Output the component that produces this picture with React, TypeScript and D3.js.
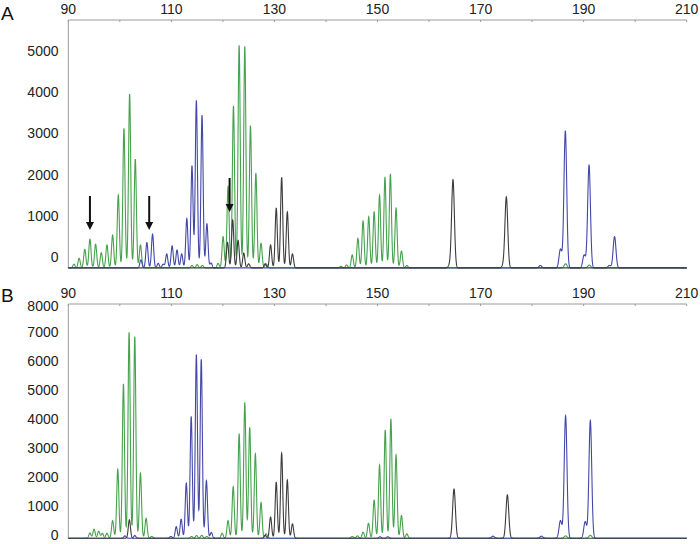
import React from "react";
import * as d3 from "d3";

// peaks: [size in bp, height above baseline in RFU]
const greenA: [number, number][] = [
  [91.1, 90], [92.1, 235], [93.2, 450], [94.2, 700], [95.3, 575], [96.4, 370],
  [97.5, 560], [98.6, 800], [99.7, 1770], [100.8, 3390], [101.9, 4220],
  [103.0, 2640], [104.0, 560], [114.0, 60], [115.0, 80], [116.0, 60],
  [119.07, 110], [120.04, 760], [121.0, 1970], [122.05, 3930], [123.15, 5400],
  [124.25, 5370], [125.35, 3450], [126.4, 2300], [127.4, 600], [128.4, 100],
  [142.9, 40], [144.0, 73], [145.1, 315], [146.2, 720], [147.2, 1140],
  [148.3, 1245], [149.35, 1365], [150.4, 1770], [151.45, 2200], [152.5, 2280],
  [153.6, 1450], [154.65, 410], [155.7, 60], [186.5, 100], [191.1, 70],
];
const blueA: [number, number][] = [
  [104.1, 195], [105.25, 615], [106.35, 820], [107.45, 110], [108.4, 90],
  [109.1, 340], [110.15, 535], [111.1, 437], [112.0, 340], [113.0, 1200],
  [114.0, 2480], [114.85, 4060], [115.95, 3700], [116.9, 1070], [117.7, 120],
  [181.6, 60], [185.5, 455], [186.45, 3325], [190.1, 315], [191.05, 2500],
  [195.0, 60], [196.0, 760],
];
const blackA: [number, number][] = [
  [120.9, 620], [121.9, 1165], [122.95, 670], [124.05, 360], [125.0, 100],
  [128.2, 100], [129.25, 560], [130.35, 1450], [131.4, 2200], [132.5, 1360],
  [133.5, 340], [164.0, 60], [164.65, 2140], [174.4, 60], [175.0, 1720],
];

const greenB: [number, number][] = [
  [94.2, 180], [95.0, 310], [95.9, 240], [96.6, 170], [97.5, 170], [98.6, 608],
  [99.6, 2380], [100.7, 5330], [101.8, 7110], [102.9, 6960], [104.0, 2245],
  [105.1, 690], [106.2, 60], [113.9, 60], [114.9, 90], [115.9, 100],
  [116.9, 60], [119.85, 170], [121.0, 608], [122.0, 1780], [123.15, 3600],
  [124.25, 4680], [125.2, 3830], [126.3, 2910], [127.4, 1230], [128.4, 150],
  [145.1, 60], [146.1, 80], [147.2, 207], [148.25, 518], [149.35, 1320],
  [150.4, 2530], [151.5, 3740], [152.6, 4120], [153.6, 2875], [154.65, 780],
  [155.7, 150], [186.5, 80], [191.3, 100],
];
const blueB: [number, number][] = [
  [101.0, 80], [102.9, 90], [109.9, 60], [110.95, 400], [111.9, 656],
  [112.9, 1900], [113.85, 4200], [114.85, 6330], [115.8, 6180], [116.8, 1990],
  [117.75, 200], [150.5, 50], [152.0, 50], [172.4, 70], [181.8, 70],
  [185.5, 608], [186.5, 4230], [190.3, 573], [191.3, 4060],
];
const blackB: [number, number][] = [
  [101.85, 632], [128.2, 100], [129.25, 735], [130.35, 1930], [131.4, 2935],
  [132.5, 2013], [133.5, 494], [164.85, 1700], [175.2, 1495],
];

// arrows in panel A: [bp, tail RFU, tip RFU]
const arrowsA: [number, number, number][] = [
  [94.2, 1480, 655], [105.7, 1480, 655], [121.3, 1917, 1092],
];

const xTicks = d3.range(90, 211, 10);
const xLabels = [90, 110, 130, 150, 170, 190, 210];
const yTicksA = [0, 1000, 2000, 3000, 4000, 5000];
const yTicksB = [0, 1000, 2000, 3000, 4000, 5000, 6000, 7000, 8000];

const GREEN = "#46a24d";
const BLUE = "#4347a8";
const BLACK = "#3c3c3c";
const AXIS = "#9a9a9a";
const FONT = "'Liberation Sans', Arial, sans-serif";

const x = d3.scaleLinear().domain([90, 210]).range([68.3, 686.7]);

function trace(peaks: [number, number][], baseline: number) {
  const pts: [number, number][] = [];
  for (let bp = 89; bp <= 211; bp += 0.02) {
    let v = baseline;
    for (const [c, h] of peaks) {
      const s = c > 160 ? 0.27 : 0.21;
      const d = (bp - c) / s;
      if (Math.abs(d) < 7) v += h * Math.exp(-0.5 * d * d);
    }
    pts.push([bp, v]);
  }
  return pts;
}

type PanelProps = {
  id: string;
  letter: string;
  letterY: number;
  top: number;
  bottom: number;
  y: d3.ScaleLinear<number, number>;
  yTicks: number[];
  baseline: number;
  series: { peaks: [number, number][]; color: string }[];
  arrows?: [number, number, number][];
};

const Panel = ({ id, letter, letterY, top, bottom, y, yTicks, baseline, series, arrows }: PanelProps) => {
  const line = d3
    .line<[number, number]>()
    .x((d) => x(d[0]))
    .y((d) => y(d[1]));
  const [x0, x1] = x.range();
  return (
    <g>
      <defs>
        <clipPath id={"clip" + id}>
          <rect x={x0} y={top} width={x1 - x0} height={bottom - top + 4} />
        </clipPath>
      </defs>
      <text x={1} y={letterY} fontSize={19} fontFamily={FONT} fill="#111">
        {letter}
      </text>
      {/* top axis */}
      <line x1={x0} x2={x1} y1={top} y2={top} stroke={AXIS} strokeWidth={1} />
      <line x1={x0} x2={x0} y1={top} y2={bottom} stroke={AXIS} strokeWidth={1} />
      {xTicks.map((t) => (
        <line key={t} x1={x(t)} x2={x(t)} y1={top} y2={top + 2} stroke={AXIS} />
      ))}
      {xLabels.map((t) => (
        <text key={t} x={x(t)} y={top - 6} textAnchor="middle" fontSize={14} fontFamily={FONT} fill="#222">
          {t}
        </text>
      ))}
      {yTicks.map((t) => (
        <text
          key={t}
          x={58.5}
          y={Math.max(y(t), top + 2)}
          textAnchor="end"
          dominantBaseline="central"
          fontSize={14}
          fontFamily={FONT}
          fill="#222"
        >
          {t}
        </text>
      ))}
      <g clipPath={`url(#clip${id})`}>
        {series.map((s, i) => (
          <path key={i} d={line(trace(s.peaks, baseline)) || ""} fill="none" stroke={s.color} strokeWidth={1.1} />
        ))}
      </g>
      {(arrows || []).map(([bp, tail, tip], i) => (
        <g key={i}>
          <line x1={x(bp)} x2={x(bp)} y1={y(tail)} y2={y(tip) - 6} stroke="#111" strokeWidth={2} />
          <polygon
            points={`${x(bp) - 4},${y(tip) - 8} ${x(bp) + 4},${y(tip) - 8} ${x(bp)},${y(tip)}`}
            fill="#111"
          />
        </g>
      ))}
    </g>
  );
};

export default function App() {
  const yA = d3.scaleLinear().domain([0, 5000]).range([257, 51]);
  const yB = d3.scaleLinear().domain([0, 7000]).range([535, 332.3]);
  return (
    <svg width={700} height={544} style={{ position: "absolute", left: 0, top: 0, background: "#fff" }}>
      <Panel
        id="A"
        letter="A"
        letterY={20}
        top={20}
        bottom={268}
        y={yA}
        yTicks={yTicksA}
        baseline={-265}
        series={[
          { peaks: greenA, color: GREEN },
          { peaks: blueA, color: BLUE },
          { peaks: blackA, color: BLACK },
        ]}
        arrows={arrowsA}
      />
      <Panel
        id="B"
        letter="B"
        letterY={302}
        top={304}
        bottom={538}
        y={yB}
        yTicks={yTicksB}
        baseline={-110}
        series={[
          { peaks: greenB, color: GREEN },
          { peaks: blueB, color: BLUE },
          { peaks: blackB, color: BLACK },
        ]}
      />
    </svg>
  );
}
